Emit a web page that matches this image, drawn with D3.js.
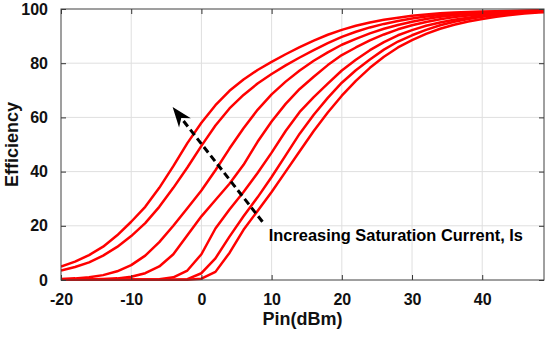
<!DOCTYPE html>
<html>
<head>
<meta charset="utf-8">
<script src="https://cdn.jsdelivr.net/npm/d3@7"></script>
<style>
    body { margin: 0; background: #fff; }
    svg { display: block; }
</style>
</head>
<body>
<svg id="chart" width="550" height="338"></svg>
<script>
// Pin in dBm, sampled every 2 dB
var pin = [-20, -18, -16, -14, -12, -10, -8, -6, -4, -2, 0, 2, 4, 6, 8, 10, 12, 14,
    16, 18, 20, 22, 24, 26, 28, 30, 32, 34, 36, 38, 40, 42, 44, 46, 48, 50];

// Efficiency (%) for each saturation current, smallest Is shift first
var eff1 = [5, 6.8, 9.2, 12.3, 16.5, 21.5, 27, 34, 42, 50.5, 58, 64.5, 69.8, 74, 77.5, 80.5, 83.3, 85.9,
    88.3, 90.5, 92.3, 93.8, 95, 96, 96.8, 97.5, 98, 98.4, 98.7, 98.9, 99.1, 99.2, 99.3, 99.4, 99.5, 99.5];
var eff2 = [3.5, 4.8, 6.5, 9, 12.2, 16.2, 21, 27, 34, 41.5, 49.5, 57, 63.3, 68.3, 72.5, 76, 79.2, 82.1,
    84.8, 87.4, 89.7, 91.6, 93.2, 94.5, 95.6, 96.5, 97.2, 97.8, 98.2, 98.5, 98.8, 99, 99.2, 99.3, 99.4, 99.5];
var eff3 = [0.4, 0.6, 1, 1.8, 3.2, 5.5, 9, 14, 20, 26.5, 33, 40.5, 48.5, 56, 62.8, 68.5, 73.2, 77.3,
    80.9, 84, 86.8, 89, 91, 92.7, 94.1, 95.3, 96.3, 97.1, 97.7, 98.2, 98.6, 98.9, 99.1, 99.3, 99.4, 99.5];
var eff4 = [0.2, 0.2, 0.3, 0.4, 0.6, 1.2, 2.5, 5, 9.5, 16.5, 23.5, 29.5, 35.5, 42.5, 51, 58.5, 65, 70.5,
    75, 79.3, 83, 85.8, 88.4, 90.6, 92.5, 94, 95.2, 96.2, 97, 97.6, 98.1, 98.5, 98.8, 99.1, 99.3, 99.4];
var eff5 = [0.1, 0.1, 0.1, 0.1, 0.1, 0.2, 0.2, 0.3, 1, 3.5, 9.5, 19, 26, 32.5, 39.5, 47, 55, 62,
    67.5, 72.5, 77.3, 81.3, 84.8, 87.8, 90.3, 92.2, 93.8, 95, 96, 96.8, 97.5, 98, 98.4, 98.8, 99, 99.2];
var eff6 = [0.1, 0.1, 0.1, 0.1, 0.1, 0.1, 0.1, 0.1, 0.1, 0.3, 2.5, 8, 16, 23.5, 30.5, 38, 46, 54,
    61, 67.2, 72.8, 77.4, 81.4, 85, 88, 90.3, 92.3, 94, 95.3, 96.3, 97.1, 97.8, 98.3, 98.7, 99, 99.2];
var eff7 = [0.1, 0.1, 0.1, 0.1, 0.1, 0.1, 0.1, 0.1, 0.1, 0.1, 0.5, 3, 10, 18.5, 25.5, 32.5, 40, 47.5,
    55, 61.8, 68, 73.5, 78.3, 82.4, 85.8, 88.5, 90.8, 92.7, 94.2, 95.4, 96.3, 97.1, 97.8, 98.3, 98.7, 98.9];
var series = [eff1, eff2, eff3, eff4, eff5, eff6, eff7];

var xTicks = [-20, -10, 0, 10, 20, 30, 40];
var yTicks = [0, 20, 40, 60, 80, 100];
var annotation = "Increasing Saturation Current, Is";

var margin = {left: 61, right: 6, top: 9, bottom: 58};
var width = 550 - margin.left - margin.right;
var height = 338 - margin.top - margin.bottom;
var font = "'Liberation Sans', Arial, sans-serif";

var svg = d3.select("#chart");
var g = svg.append("g")
    .attr("transform", "translate(" + margin.left + "," + margin.top + ")");

var x = d3.scaleLinear().domain([-20, 48.8]).range([0, width]);
var y = d3.scaleLinear().domain([0, 100]).range([height, 0]);

// grid
g.append("g")
    .selectAll("line")
    .data(xTicks.slice(1))
    .enter()
    .append("line")
    .attr("x1", function (d) { return x(d); })
    .attr("x2", function (d) { return x(d); })
    .attr("y1", 0)
    .attr("y2", height)
    .attr("stroke", "#dfdfdf")
    .attr("stroke-width", 1);
g.append("g")
    .selectAll("line")
    .data(yTicks.slice(1, -1))
    .enter()
    .append("line")
    .attr("x1", 0)
    .attr("x2", width)
    .attr("y1", function (d) { return y(d); })
    .attr("y2", function (d) { return y(d); })
    .attr("stroke", "#dfdfdf")
    .attr("stroke-width", 1);

// curves
svg.append("defs")
    .append("clipPath")
    .attr("id", "plotClip")
    .append("rect")
    .attr("width", width)
    .attr("height", height + 2)
    .attr("y", -1);

var line = d3.line()
    .x(function (d, i) { return x(pin[i]); })
    .y(function (d) { return y(d); });

g.append("g")
    .attr("clip-path", "url(#plotClip)")
    .selectAll("path")
    .data(series)
    .enter()
    .append("path")
    .attr("d", line)
    .attr("fill", "none")
    .attr("stroke", "#ff0000")
    .attr("stroke-width", 2.5)
    .attr("stroke-linejoin", "round");

// axes, MATLAB style box with inward ticks on all sides
function styleAxis(sel) {
    sel.select(".domain").remove();
    sel.selectAll(".tick line").attr("stroke", "#333");
    sel.selectAll(".tick text")
        .style("font-family", font)
        .style("font-size", "16px")
        .style("font-weight", "bold")
        .attr("fill", "#111");
}
// plain hyphen for negatives, as in the original
var fmt = function (d) { return String(d); };

g.append("g")
    .attr("transform", "translate(0," + height + ")")
    .call(d3.axisBottom(x).tickValues(xTicks).tickFormat(fmt).tickSizeInner(-5).tickSizeOuter(0).tickPadding(14))
    .call(styleAxis);
g.append("g")
    .call(d3.axisTop(x).tickValues(xTicks).tickSizeInner(-5).tickSizeOuter(0).tickFormat(""))
    .call(styleAxis);
g.append("g")
    .call(d3.axisLeft(y).tickValues(yTicks).tickFormat(fmt).tickSizeInner(-5).tickSizeOuter(0).tickPadding(13))
    .call(styleAxis);
g.append("g")
    .attr("transform", "translate(" + width + ",0)")
    .call(d3.axisRight(y).tickValues(yTicks).tickSizeInner(-5).tickSizeOuter(0).tickFormat(""))
    .call(styleAxis);

g.append("rect")
    .attr("width", width)
    .attr("height", height)
    .attr("fill", "none")
    .attr("stroke", "#404040")
    .attr("stroke-width", 1);

// labels
g.append("text")
    .attr("x", width / 2)
    .attr("y", height + 44.5)
    .attr("text-anchor", "middle")
    .style("font-family", font)
    .style("font-size", "18px")
    .style("font-weight", "bold")
    .attr("fill", "#111")
    .text("Pin(dBm)");
g.append("text")
    .attr("transform", "translate(" + (18 - margin.left) + "," + (height / 2) + ") rotate(-90)")
    .attr("text-anchor", "middle")
    .style("font-family", font)
    .style("font-size", "18px")
    .style("font-weight", "bold")
    .attr("fill", "#111")
    .text("Efficiency");

// dashed arrow pointing toward higher Is
var sx = x(8.7), sy = y(21.5);
var tx = x(-4.1), ty = y(63.8);
var len = Math.sqrt((tx - sx) * (tx - sx) + (ty - sy) * (ty - sy));
var ux = (tx - sx) / len, uy = (ty - sy) / len;
var nx = -uy, ny = ux;
var headL = 20, headW = 7.5, notch = 14;

g.append("line")
    .attr("x1", sx)
    .attr("y1", sy)
    .attr("x2", tx - notch * ux)
    .attr("y2", ty - notch * uy)
    .attr("stroke", "#000")
    .attr("stroke-width", 3)
    .attr("stroke-dasharray", "7,4");
g.append("path")
    .attr("d", "M" + tx + "," + ty +
        "L" + (tx - headL * ux + headW * nx) + "," + (ty - headL * uy + headW * ny) +
        "L" + (tx - notch * ux) + "," + (ty - notch * uy) +
        "L" + (tx - headL * ux - headW * nx) + "," + (ty - headL * uy - headW * ny) + "Z")
    .attr("fill", "#000");

g.append("text")
    .attr("x", x(9.6))
    .attr("y", y(14.4))
    .style("font-family", font)
    .style("font-size", "16.4px")
    .style("font-weight", "bold")
    .attr("fill", "#000")
    .text(annotation);
</script>
</body>
</html>
